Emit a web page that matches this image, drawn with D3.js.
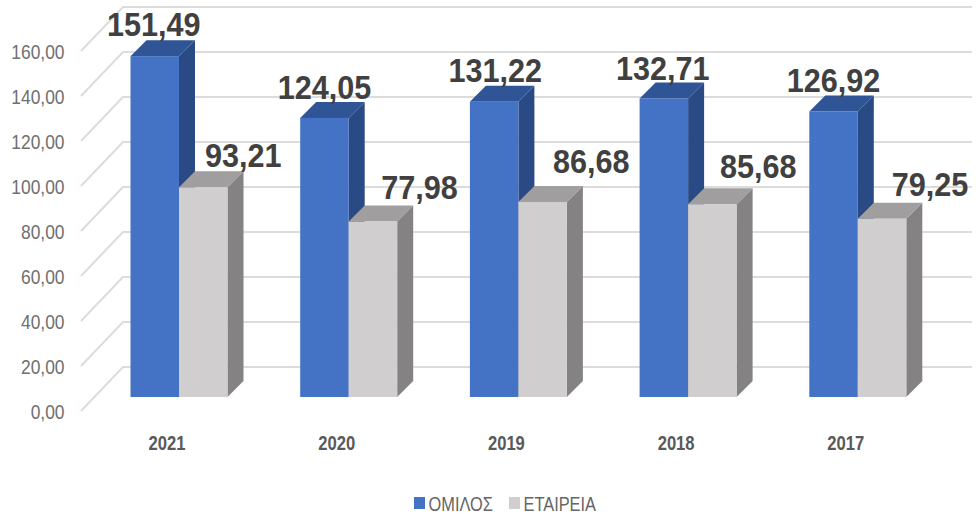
<!DOCTYPE html>
<html>
<head>
<meta charset="utf-8">
<script src="https://cdn.jsdelivr.net/npm/d3@7"></script>
<style>
	html, body { margin: 0; padding: 0; background: #fff; }
	text { font-family: "Liberation Sans", sans-serif; }
</style>
</head>
<body>
<div id="chart"></div>
<script>
var years      = ['2021', '2020', '2019', '2018', '2017'];
var seriesKeys = ['ΟΜΙΛΟΣ', 'ΕΤΑΙΡΕΙΑ'];
var omilos     = [151.49, 124.05, 131.22, 132.71, 126.92];
var etaireia   = [93.21, 77.98, 86.68, 85.68, 79.25];
var yTicks     = [0, 20, 40, 60, 80, 100, 120, 140, 160];

// hand placed data labels, same order as the values
var labelNudge = [
	[{x: -17, y: -4}, {x: 24, y: -4}],
	[{x: -16, y: -3}, {x: 30.5, y: -6.5}],
	[{x: -15, y: -4}, {x: 32.5, y: -13}],
	[{x: -17, y: -2.5}, {x: 30, y: -10}],
	[{x: -16, y: -3}, {x: 32, y: -7}]
];

var colors = [
	{front: '#4472c4', top: '#2f5597', side: '#294a84'},
	{front: '#d0cece', top: '#a09e9e', side: '#848282'}
];

var width = 976, height = 514;
var depth = 16;                  // bar extrusion
var floorDx = 42, floorDy = 44;  // slanted part of the grid

var fmt = function(v) { return v.toFixed(2).replace('.', ','); };

// no condensed face installed, so squeeze the regular one
function squeeze(x, y, k) {
	return 'translate(' + x + ',' + y + ') scale(' + k + ',1)';
}

var svg = d3.select('#chart').append('svg')
	.attr('width', width)
	.attr('height', height);

var yBack = d3.scaleLinear().domain([0, 160]).range([367, 7]);
var yBar  = d3.scaleLinear().domain([0, 160]).range([397, 37]);

var x0 = d3.scaleBand().domain(years).range([130.5, 130.5 + 5 * 169.7]);
var x1 = d3.scaleBand().domain(seriesKeys).range([0, 97]);

var backX = 123, endX = 972;

// grid
var grid = svg.append('g').attr('class', 'grid');
grid.selectAll('path')
	.data(yTicks)
	.enter().append('path')
	.attr('d', function(d) {
		return 'M' + (backX - floorDx) + ',' + (yBack(d) + floorDy) +
			'L' + backX + ',' + yBack(d) + 'H' + endX;
	})
	.attr('fill', 'none')
	.attr('stroke', '#dcdcdc')
	.attr('stroke-width', 2);

// y labels
svg.append('g').selectAll('text')
	.data(yTicks)
	.enter().append('text')
	.attr('transform', function(d) { return squeeze(64.5, yBack(d) + floorDy + 7.5, 0.87); })
	.attr('text-anchor', 'end')
	.attr('font-size', 20)
	.attr('fill', '#707070')
	.text(fmt);

// bars
var group = svg.append('g').selectAll('g')
	.data(years)
	.enter().append('g')
	.attr('transform', function(d) { return 'translate(' + x0(d) + ',0)'; });

seriesKeys.forEach(function(key, s) {
	var values = s === 0 ? omilos : etaireia;
	var c = colors[s];
	var w = x1.bandwidth();
	var bar = group.append('g');
	var left = x1(key);

	bar.append('path') // side
		.attr('d', function(d, i) {
			var t = yBar(values[i]), b = yBar(0), r = left + w;
			return 'M' + r + ',' + t + 'l' + depth + ',' + (-depth) +
				'V' + (b - depth) + 'L' + r + ',' + b + 'Z';
		})
		.attr('fill', c.side);
	bar.append('path') // top
		.attr('d', function(d, i) {
			var t = yBar(values[i]);
			return 'M' + left + ',' + t + 'l' + depth + ',' + (-depth) +
				'h' + w + 'l' + (-depth) + ',' + depth + 'Z';
		})
		.attr('fill', c.top);
	bar.append('rect') // front
		.attr('x', left)
		.attr('y', function(d, i) { return yBar(values[i]); })
		.attr('width', w)
		.attr('height', function(d, i) { return yBar(0) - yBar(values[i]); })
		.attr('fill', c.front);
});

// data labels go on top of every bar
seriesKeys.forEach(function(key, s) {
	var values = s === 0 ? omilos : etaireia;
	group.append('text')
		.attr('transform', function(d, i) {
			return squeeze(x1(key) + x1.bandwidth() / 2 + depth + labelNudge[i][s].x,
				yBar(values[i]) - depth + labelNudge[i][s].y, 0.9);
		})
		.attr('text-anchor', 'middle')
		.attr('font-size', 34)
		.attr('font-weight', 'bold')
		.attr('fill', '#404040')
		.text(function(d, i) { return fmt(values[i]); });
});

// years
group.append('text')
	.attr('transform', squeeze(36.5, 450, 0.79))
	.attr('text-anchor', 'middle')
	.attr('font-size', 21)
	.attr('font-weight', 'bold')
	.attr('fill', '#595959')
	.text(function(d) { return d; });

// legend
var legendX = [414, 509];
var legend = svg.append('g').selectAll('g')
	.data(seriesKeys)
	.enter().append('g')
	.attr('transform', function(d, i) { return 'translate(' + legendX[i] + ',497)'; });
legend.append('rect')
	.attr('width', 11)
	.attr('height', 12)
	.attr('fill', function(d, i) { return colors[i].front; });
legend.append('text')
	.attr('transform', squeeze(14.5, 14, 0.78))
	.attr('font-size', 21)
	.attr('fill', '#666')
	.text(function(d) { return d; });
</script>
</body>
</html>
